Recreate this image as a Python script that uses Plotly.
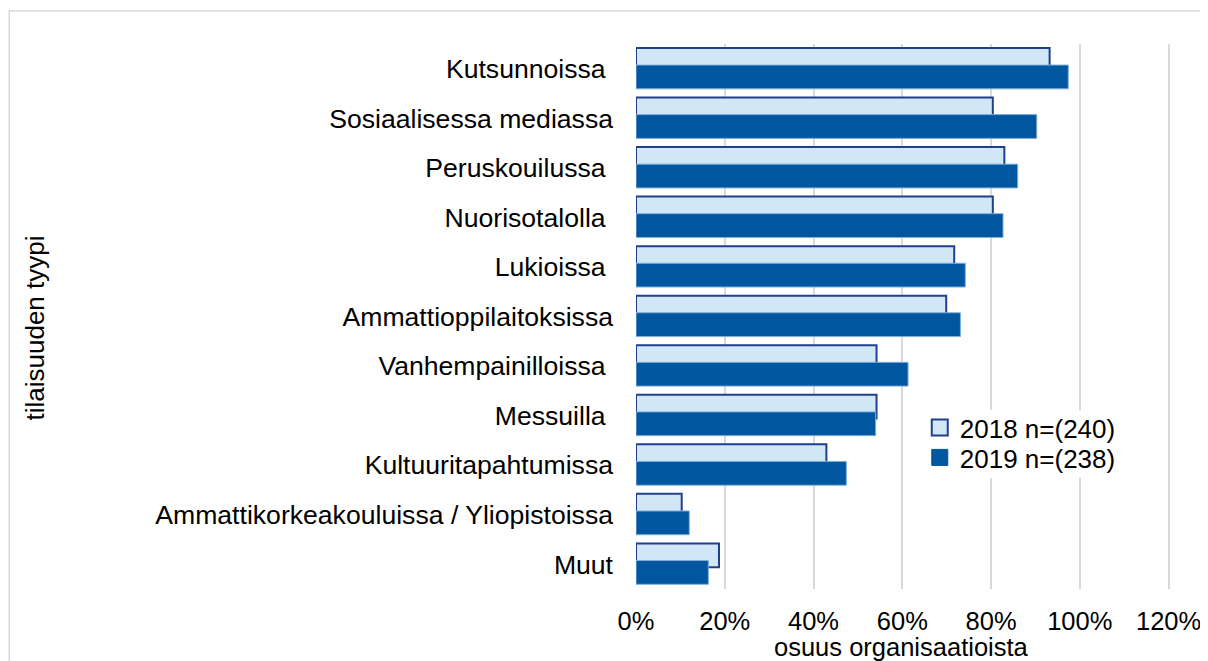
import plotly.graph_objects as go

NB = "\u00a0"
categories = [
    "Kutsunnoissa" + NB,
    "Sosiaalisessa mediassa",
    "Peruskouilussa" + NB,
    "Nuorisotalolla" + NB,
    "Lukioissa" + NB,
    "Ammattioppilaitoksissa",
    "Vanhempainilloissa" + NB,
    "Messuilla" + NB,
    "Kultuuritapahtumissa",
    "Ammattikorkeakouluissa / Yliopistoissa",
    "Muut",
]
values_2018 = [93.2, 80.4, 83.0, 80.4, 71.7, 69.9, 54.2, 54.2, 42.9, 10.3, 18.7]
values_2019 = [97.4, 90.3, 86.0, 82.7, 74.2, 73.1, 61.3, 54.0, 47.4, 12.0, 16.3]
series_names = ["2018 n=(240)", "2019 n=(238)"]
tick_vals = [0, 20, 40, 60, 80, 100, 120]
tick_text = ["0%", "20%", "40%", "60%", "80%", "100%", "120%"]
x_title = "osuus organisaatioista"
y_title = "tilaisuuden tyypi"

FONT = "Liberation Sans, Arial, sans-serif"
FS = 26

LIGHT, LIGHT_EDGE = "#D1E7F6", "#203F8C"
DARK, DARK_EDGE = "#00569F", "#7FAEDD"

fig = go.Figure()
fig.add_trace(go.Bar(
    name=series_names[0], y=categories, x=values_2018, orientation="h",
    width=0.48, offset=-0.42, showlegend=False,
    marker=dict(color=LIGHT, line=dict(color=LIGHT_EDGE, width=2)),
))
fig.add_trace(go.Bar(
    name=series_names[1], y=categories, x=values_2019, orientation="h",
    width=0.48, offset=-0.075, showlegend=False,
    marker=dict(color=DARK, line=dict(color=DARK_EDGE, width=1)),
))
# legend entries with larger square symbols, one legend per entry
fig.add_trace(go.Scatter(
    name=series_names[0], x=[None], y=[None], mode="markers", legend="legend",
    marker=dict(symbol="square", size=16, color=LIGHT, line=dict(color=LIGHT_EDGE, width=2)),
))
fig.add_trace(go.Scatter(
    name=series_names[1], x=[None], y=[None], mode="markers", legend="legend2",
    marker=dict(symbol="square", size=16, color=DARK, line=dict(color=DARK, width=1)),
))

# page has an 8px body margin; work in page pixels and convert
OFF = 8
FW, FH = 1208 - OFF, 661 - OFF
L, T = 636 - OFF, 44 - OFF
W = 121 * (1169 - 636) / 120.0
H = 589 - 44
R = FW - L - W
B = FH - T - H

def px(x):
    return (x - OFF - L) / W

def py(y):
    return (T + H - (y - OFF)) / H

legend_common = dict(
    xanchor="left", yanchor="top", bgcolor="rgba(0,0,0,0)",
    font=dict(size=FS, family=FONT), itemwidth=30,
    borderwidth=0,
)

fig.update_layout(
    width=FW, height=FH,
    margin=dict(l=L, r=R, t=T, b=B, autoexpand=False),
    barmode="overlay",
    paper_bgcolor="white", plot_bgcolor="white",
    font=dict(family=FONT, size=FS, color="black"),
    showlegend=True,
    legend=dict(x=px(920), y=py(404), **legend_common),
    legend2=dict(x=px(920), y=py(434), **legend_common),
    xaxis=dict(
        range=[0, 121], tickvals=tick_vals, ticktext=tick_text,
        showgrid=True, gridcolor="#D9D9D9", gridwidth=2, zeroline=False,
        showline=False, ticks="", ticklabelstandoff=14, tickfont=dict(size=25.5),
        automargin=False, fixedrange=True,
    ),
    yaxis=dict(
        autorange="reversed", showgrid=False, zeroline=False, showline=False,
        ticks="", ticklabelstandoff=22, tickfont=dict(size=26.6),
        automargin=False, fixedrange=True,
    ),
    annotations=[
        dict(text=x_title, xref="paper", yref="paper", x=px(902), y=py(647),
             xanchor="center", yanchor="middle", showarrow=False,
             font=dict(size=25.5, family=FONT, color="black")),
        dict(text=y_title, xref="paper", yref="paper", x=px(35), y=py(328),
             xanchor="center", yanchor="middle", showarrow=False, textangle=-90,
             font=dict(size=FS, family=FONT, color="black")),
    ],
    shapes=[
        dict(type="rect", xref="paper", yref="paper",
             x0=px(8.75), x1=px(1300), y0=py(700), y1=py(11),
             line=dict(color="#D9D9D9", width=1.5), fillcolor="rgba(0,0,0,0)",
             layer="below"),
        dict(type="rect", xref="paper", yref="paper",
             x0=px(926), x1=px(1122), y0=py(478), y1=py(410),
             line=dict(width=0), fillcolor="white", layer="above"),
    ],
)

fig.write_html("out.html")
